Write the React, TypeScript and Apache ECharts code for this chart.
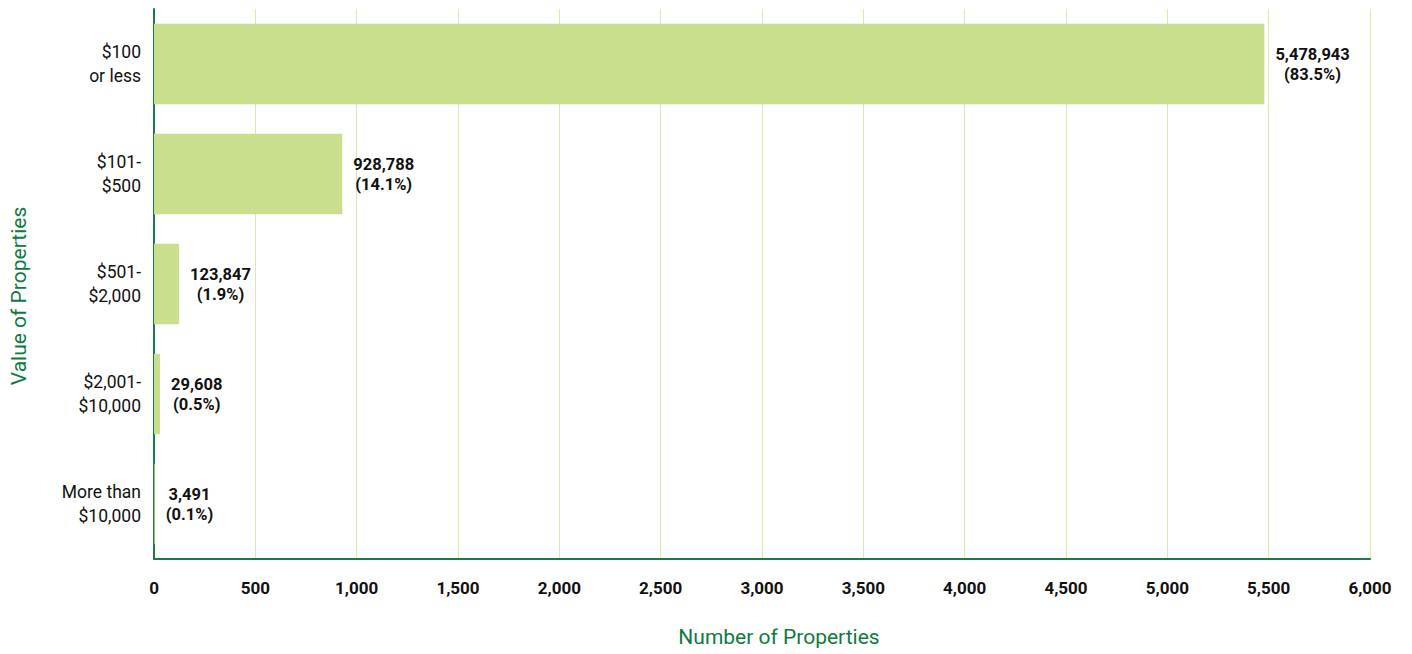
import React, { useEffect, useRef } from "react";
import * as echarts from "echarts";

const categories = ["$100\nor less", "$101-\n$500", "$501-\n$2,000", "$2,001-\n$10,000", "More than\n$10,000"];
const counts = [5478943, 928788, 123847, 29608, 3491];
const percents = ["83.5%", "14.1%", "1.9%", "0.5%", "0.1%"];
const xTicks = [0, 500, 1000, 1500, 2000, 2500, 3000, 3500, 4000, 4500, 5000, 5500, 6000];
const xTitle = "Number of Properties";
const yTitle = "Value of Properties";

const FONT = "Roboto, 'Noto Sans', sans-serif";

export default function App() {
  const ref = useRef<HTMLDivElement>(null);
  useEffect(() => {
    document.body.style.margin = "0";
    if (!ref.current) return;
    const chart = echarts.init(ref.current, null, { renderer: "svg" });
    chart.setOption({
      animation: false,
      textStyle: { fontFamily: FONT },
      grid: { left: 154, right: 42, top: 9, bottom: 95, containLabel: false },
      graphic: [
        {
          type: "text",
          x: 779,
          y: 637,
          style: {
            text: xTitle,
            fill: "#0f7a3f",
            fontSize: 21,
            fontFamily: FONT,
            align: "center",
            verticalAlign: "middle",
          },
        },
        {
          type: "text",
          x: 19,
          y: 296,
          rotation: Math.PI / 2,
          style: {
            text: yTitle,
            fill: "#0f7a3f",
            fontSize: 21,
            fontFamily: FONT,
            align: "center",
            verticalAlign: "middle",
          },
        },
      ],
      xAxis: {
        type: "value",
        min: xTicks[0],
        max: xTicks[xTicks.length - 1],
        interval: 500,
        axisLine: { show: true, lineStyle: { color: "#1b7a4a", width: 2 } },
        axisTick: { show: false },
        axisLabel: {
          margin: 20,
          color: "#111",
          fontWeight: "bold",
          fontSize: 17,
          fontFamily: FONT,
          formatter: (v: number) => v.toLocaleString("en-US"),
        },
        splitLine: { show: true, lineStyle: { color: "#dde9ae", width: 1 } },
      },
      yAxis: {
        type: "category",
        data: categories,
        inverse: true,
        axisLine: { show: true, lineStyle: { color: "#1b7a4a", width: 2 } },
        axisTick: { show: false },
        axisLabel: {
          margin: 13,
          color: "#111",
          fontSize: 17.5,
          lineHeight: 24,
          align: "right",
          fontFamily: FONT,
        },
        splitLine: { show: false },
      },
      series: [
        {
          type: "bar",
          data: counts.map((c) => c / 1000),
          barCategoryGap: "27%",
          itemStyle: { color: "#c9df8e" },
          label: {
            show: true,
            position: "right",
            distance: 11,
            formatter: (p: any) =>
              `{a|${counts[p.dataIndex].toLocaleString("en-US")}}\n{a|(${percents[p.dataIndex]})}`,
            rich: {
              a: {
                align: "center",
                fontWeight: "bold",
                fontSize: 16.5,
                lineHeight: 20,
                color: "#111",
                fontFamily: FONT,
              },
            },
          },
        },
      ],
    });
    return () => chart.dispose();
  }, []);
  return <div ref={ref} style={{ width: 1412, height: 654 }} />;
}
